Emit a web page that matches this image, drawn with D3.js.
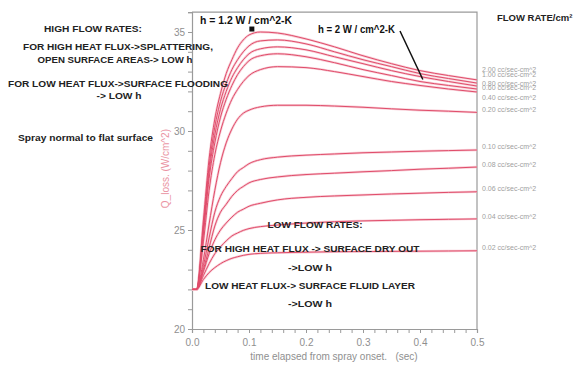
<!DOCTYPE html>
<html>
<head>
<meta charset="utf-8">
<script src="https://cdn.jsdelivr.net/npm/d3@7"></script>
<style>
  html, body { margin: 0; padding: 0; background: #fff; }
  svg { display: block; }
</style>
</head>
<body>
<svg id="chart" width="576" height="365"></svg>
<script>
// Time grid (sec) shared by every curve
const times = [0, 0.008, 0.02, 0.03, 0.04, 0.05, 0.06, 0.07, 0.08, 0.09, 0.10, 0.12, 0.15, 0.2, 0.25, 0.3, 0.35, 0.4, 0.45, 0.5];

// Heat loss Q_loss (W/cm^2) for each spray flow rate
const flowLabels = ["2.00", "1.00", "0.80", "0.60", "0.40", "0.20", "0.10", "0.08", "0.06", "0.04", "0.02"];
const q200 = [22, 22, 25.5, 28.6, 30.6, 31.9, 32.9, 33.6, 34.2, 34.6, 34.85, 35.0, 34.95, 34.65, 34.25, 33.8, 33.4, 33.05, 32.8, 32.58];
const q100 = [22, 22, 25.2, 28.2, 30.2, 31.5, 32.4, 33.1, 33.6, 34.0, 34.3, 34.55, 34.6, 34.4, 34.0, 33.6, 33.25, 32.9, 32.65, 32.42];
const q080 = [22, 22, 25.0, 27.9, 29.8, 31.1, 32.0, 32.7, 33.2, 33.6, 33.9, 34.15, 34.25, 34.1, 33.75, 33.4, 33.05, 32.75, 32.5, 32.27];
const q060 = [22, 22, 24.8, 27.6, 29.4, 30.7, 31.6, 32.3, 32.85, 33.25, 33.55, 33.8, 33.9, 33.75, 33.45, 33.1, 32.8, 32.5, 32.3, 32.12];
const q040 = [22, 22, 24.4, 27.0, 28.8, 30.0, 30.9, 31.6, 32.1, 32.5, 32.8, 33.1, 33.25, 33.2, 33.0, 32.75, 32.5, 32.3, 32.12, 31.97];
const q020 = [22, 22, 23.5, 25.3, 27.0, 28.4, 29.4, 30.1, 30.6, 30.9, 31.05, 31.22, 31.3, 31.3, 31.26, 31.2, 31.12, 31.05, 31.0, 30.94];
const q010 = [22, 22, 23.2, 24.6, 25.9, 26.7, 27.2, 27.6, 27.95, 28.15, 28.35, 28.55, 28.68, 28.78, 28.84, 28.9, 28.94, 28.98, 29.01, 29.04];
const q008 = [22, 22, 23.0, 24.1, 25.2, 25.9, 26.3, 26.7, 27.0, 27.2, 27.38, 27.55, 27.68, 27.8, 27.87, 27.94, 28.0, 28.07, 28.12, 28.18];
const q006 = [22, 22, 22.9, 23.8, 24.5, 25.0, 25.35, 25.65, 25.9, 26.05, 26.2, 26.35, 26.52, 26.65, 26.72, 26.77, 26.82, 26.86, 26.9, 26.93];
const q004 = [22, 22, 22.7, 23.3, 23.8, 24.15, 24.45, 24.7, 24.85, 24.98, 25.07, 25.17, 25.25, 25.35, 25.42, 25.46, 25.49, 25.52, 25.54, 25.56];
const q002 = [22, 22, 22.5, 22.85, 23.1, 23.3, 23.45, 23.57, 23.65, 23.72, 23.77, 23.82, 23.85, 23.88, 23.9, 23.91, 23.92, 23.93, 23.94, 23.95];
const seriesValues = [q200, q100, q080, q060, q040, q020, q010, q008, q006, q004, q002];

// Vertical position of each flow-rate label, in data units
const labelValues = [33.1, 32.86, 32.42, 32.2, 31.68, 31.06, 29.19, 28.31, 27.08, 25.69, 24.09];

// Axis ticks
const xTickLabels = [0.0, 0.1, 0.2, 0.3, 0.4, 0.5];
const yTickLabels = [20, 25, 30, 35];

const svg = d3.select("#chart");
const x = d3.scaleLinear().domain([0, 0.5]).range([192, 477]);
const y = d3.scaleLinear().domain([20, 36]).range([329, 12.2]);

const axisColor = "#9a9a9a";
const tickTextColor = "#8f8f8f";
const font = "Liberation Sans, Arial, sans-serif";

// Frame: top and right edges
svg.append("path")
  .attr("d", `M${x(0)},${y(36)}H${x(0.5)}V${y(20)}`)
  .attr("fill", "none").attr("stroke", axisColor).attr("stroke-width", 1.2);

// X axis
const xAxis = svg.append("g").attr("transform", `translate(0,${y(20)})`)
  .call(d3.axisBottom(x).tickValues(d3.range(0, 0.5001, 0.02)).tickSize(4)
    .tickFormat(d => xTickLabels.some(v => Math.abs(v - d) < 1e-6) ? d3.format(".1f")(d) : ""));
xAxis.select(".domain").attr("stroke", axisColor).attr("stroke-width", 1.2);
xAxis.selectAll(".tick line").attr("stroke", axisColor);
xAxis.selectAll(".tick text").attr("fill", tickTextColor).attr("font-size", 10)
  .attr("font-family", font).attr("dy", "0.95em");

// Y axis
const yAxis = svg.append("g").attr("transform", `translate(${x(0)},0)`)
  .call(d3.axisLeft(y).tickValues(d3.range(20, 36.01, 1)).tickSize(4)
    .tickFormat(d => yTickLabels.includes(d) ? d : ""));
yAxis.select(".domain").attr("stroke", axisColor).attr("stroke-width", 1.2);
yAxis.selectAll(".tick line").attr("stroke", axisColor);
yAxis.selectAll(".tick text").attr("fill", tickTextColor).attr("font-size", 10)
  .attr("font-family", font);

// Axis titles
svg.append("text")
  .attr("transform", `translate(169,${y(28.1)}) rotate(-90)`)
  .attr("text-anchor", "middle").attr("fill", "#ea94a3")
  .attr("font-size", 10).attr("font-family", font)
  .text("Q_loss. (W/cm^2)");
svg.append("text")
  .attr("x", 334).attr("y", 360).attr("text-anchor", "middle").attr("fill", tickTextColor)
  .attr("font-size", 10).attr("font-family", font)
  .attr("xml:space", "preserve")
  .text("time elapsed from spray onset.   (sec)");

// Curves: soft pink halo under a thin red stroke
const line = d3.line()
  .x((d, i) => x(times[i]))
  .y(d => y(d))
  .curve(d3.curveMonotoneX);

const curves = svg.append("g");
curves.selectAll("path.halo").data(seriesValues).join("path")
  .attr("class", "halo")
  .attr("d", line).attr("fill", "none")
  .attr("stroke", "#f5bcc8").attr("stroke-width", 2.4).attr("opacity", 0.75);
curves.selectAll("path.curve").data(seriesValues).join("path")
  .attr("class", "curve")
  .attr("d", line).attr("fill", "none")
  .attr("stroke", "#e04c6a").attr("stroke-width", 1.0);

// Flow-rate labels at the right edge
svg.append("g").selectAll("text").data(flowLabels).join("text")
  .attr("x", 482).attr("y", (d, i) => y(labelValues[i]))
  .attr("dy", "0.35em")
  .attr("fill", "#a0a0a0").attr("font-size", 7)
  .attr("font-family", font)
  .text(d => `${d} cc/sec-cm^2`);

// Annotation text
const notes = [
  { t: "HIGH FLOW RATES:", x: 93, y: 29, w: 98 },
  { t: "FOR HIGH HEAT FLUX->SPLATTERING,", x: 118, y: 47, w: 190 },
  { t: "OPEN SURFACE AREAS-> LOW h", x: 115, y: 60, w: 155 },
  { t: "FOR LOW HEAT FLUX->SURFACE FLOODING", x: 118, y: 84, w: 220 },
  { t: "-> LOW h", x: 119, y: 96, w: 45 },
  { t: "LOW FLOW RATES:", x: 315, y: 225, w: 95 },
  { t: "FOR HIGH HEAT FLUX -> SURFACE DRY OUT", x: 310, y: 249, w: 219 },
  { t: "->LOW h", x: 310, y: 268, w: 44 },
  { t: "LOW HEAT FLUX-> SURFACE FLUID LAYER", x: 310, y: 286, w: 210 },
  { t: "->LOW h", x: 310, y: 304, w: 44 }
];
svg.append("g").selectAll("text").data(notes).join("text")
  .attr("x", d => d.x).attr("y", d => d.y).attr("dy", "0.35em")
  .attr("text-anchor", "middle")
  .attr("fill", "#222").attr("font-weight", "bold").attr("font-size", 9.5)
  .attr("font-family", font)
  .attr("textLength", d => d.w).attr("lengthAdjust", "spacingAndGlyphs")
  .text(d => d.t);

svg.append("text")
  .attr("x", 18).attr("y", 138).attr("dy", "0.35em")
  .attr("fill", "#222").attr("font-weight", "bold").attr("font-size", 9.5)
  .attr("font-family", font)
  .attr("textLength", 135).attr("lengthAdjust", "spacingAndGlyphs")
  .text("Spray normal to flat surface");

svg.append("text")
  .attr("x", 200).attr("y", 20).attr("dy", "0.35em")
  .attr("fill", "#111").attr("font-weight", "bold").attr("font-size", 10)
  .attr("font-family", font)
  .attr("textLength", 92).attr("lengthAdjust", "spacingAndGlyphs")
  .text("h = 1.2 W / cm^2-K");

svg.append("text")
  .attr("x", 318).attr("y", 29).attr("dy", "0.35em")
  .attr("fill", "#111").attr("font-weight", "bold").attr("font-size", 10)
  .attr("font-family", font)
  .attr("textLength", 77).attr("lengthAdjust", "spacingAndGlyphs")
  .text("h = 2 W / cm^2-K");

svg.append("text")
  .attr("x", 497).attr("y", 18).attr("dy", "0.35em")
  .attr("fill", "#222").attr("font-weight", "bold").attr("font-size", 9.5)
  .attr("font-family", font)
  .text("FLOW RATE/cm\u00B2");

// Marker at the peak of the highest-flow curve
svg.append("rect")
  .attr("x", x(0.105) - 2.5).attr("y", y(35.15) - 2.5)
  .attr("width", 5).attr("height", 5).attr("fill", "#111");

// Pointer from the h = 2 W label to the curves
svg.append("line")
  .attr("x1", 400).attr("y1", 31).attr("x2", x(0.405)).attr("y2", y(32.6))
  .attr("stroke", "#111").attr("stroke-width", 1.5);
</script>
</body>
</html>
